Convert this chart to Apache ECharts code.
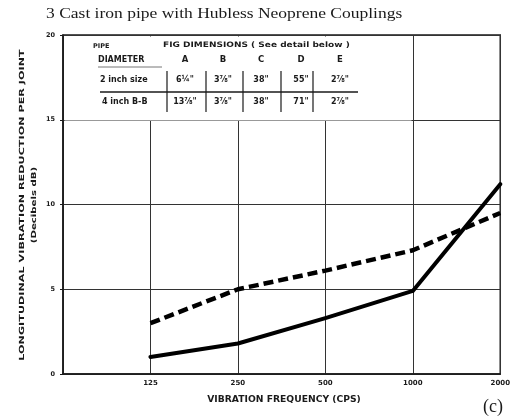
<!DOCTYPE html>
<html><head><meta charset="utf-8">
<script src="https://cdn.jsdelivr.net/npm/echarts@6/dist/echarts.min.js"></script>
<style>html,body{margin:0;padding:0;background:#fff}#c{width:513px;height:416px}</style>
</head><body><div id="c"></div>
<script>
// ---- data ----
const categories = ['', '125', '250', '500', '1000', '2000'];
const solidValues = [null, 1.0, 1.8, 3.3, 4.9, 11.2];   // 2 inch
const dashedValues = [null, 3.0, 5.0, 6.1, 7.3, 9.5];   // 4 inch
const yTicks = [0, 5, 10, 15, 20];
const colHeaders = ['A', 'B', 'C', 'D', 'E'];
const rowLabels = ['2 inch size', '4 inch B-B'];
const row1Values = ['6¼"', '3⅞"', '38"', '55"', '2⅞"'];
const row2Values = ['13⅞"', '3⅞"', '38"', '71"', '2⅞"'];
const titleText = '3 Cast iron pipe with Hubless Neoprene Couplings';
const xTitle = 'VIBRATION FREQUENCY (CPS)';
const yTitle1 = 'LONGITUDINAL VIBRATION REDUCTION PER JOINT';
const yTitle2 = '(Decibels dB)';

const chart = echarts.init(document.getElementById('c'), null, {renderer: 'canvas'});
const F = 'DejaVu Sans';
const ink = '#1a1a1a';

const colX = [185, 223, 261, 301, 340];
const g = [];
// title
g.push({type: 'text', x: 46, y: 14, scaleX: 1.25, style: {text: titleText, font: '14px Liberation Serif', fill: ink, textVerticalAlign: 'middle'}, z: 51});
// y-axis title (rotated)
g.push({type: 'text', x: 22, y: 205, rotation: Math.PI / 2, scaleX: 1.6, style: {text: yTitle1, font: 'bold 7px ' + F, fill: ink, textAlign: 'center', textVerticalAlign: 'middle'}, z: 51});
g.push({type: 'text', x: 34, y: 205, rotation: Math.PI / 2, scaleX: 1.45, style: {text: yTitle2, font: 'bold 7px ' + F, fill: ink, textAlign: 'center', textVerticalAlign: 'middle'}, z: 51});
// x-axis title
g.push({type: 'text', x: 284, y: 400, scaleX: 1.15, style: {text: xTitle, font: 'bold 8px ' + F, fill: ink, textAlign: 'center', textVerticalAlign: 'middle'}, z: 51});
// white patch for table
g.push({type: 'rect', shape: {x: 64.5, y: 36.5, width: 347, height: 84}, style: {fill: '#fff'}, z: 50, silent: true});
g.push({type: 'text', x: 93, y: 46, style: {text: 'PIPE', font: 'bold 6.5px ' + F, fill: ink, textVerticalAlign: 'middle'}, z: 51});
g.push({type: 'text', x: 163, y: 45, scaleX: 1.2, style: {text: 'FIG DIMENSIONS ( See detail below )', font: 'bold 7.5px ' + F, fill: ink, textVerticalAlign: 'middle'}, z: 51});
g.push({type: 'text', x: 98, y: 60, style: {text: 'DIAMETER', font: 'bold 8px ' + F, fill: ink, textVerticalAlign: 'middle'}, z: 51});
colHeaders.forEach((h, i) => g.push({type: 'text', x: colX[i], y: 60, style: {text: h, font: 'bold 8.5px ' + F, fill: ink, textAlign: 'center', textVerticalAlign: 'middle'}, z: 51}));
g.push({type: 'text', x: 100, y: 80, style: {text: rowLabels[0], font: 'bold 8px ' + F, fill: ink, textVerticalAlign: 'middle'}, z: 51});
g.push({type: 'text', x: 102, y: 102, style: {text: rowLabels[1], font: 'bold 8px ' + F, fill: ink, textVerticalAlign: 'middle'}, z: 51});
row1Values.forEach((v, i) => g.push({type: 'text', x: colX[i], y: 80, style: {text: v, font: 'bold 8px ' + F, fill: ink, textAlign: 'center', textVerticalAlign: 'middle'}, z: 51}));
row2Values.forEach((v, i) => g.push({type: 'text', x: colX[i], y: 102, style: {text: v, font: 'bold 8px ' + F, fill: ink, textAlign: 'center', textVerticalAlign: 'middle'}, z: 51}));
g.push({type: 'line', shape: {x1: 98, y1: 67, x2: 162, y2: 67}, style: {stroke: '#777', lineWidth: 1}, z: 51});
g.push({type: 'line', shape: {x1: 100, y1: 92, x2: 358, y2: 92}, style: {stroke: ink, lineWidth: 1.5}, z: 51});
[167, 206, 243, 281, 313].forEach(x => g.push({type: 'line', shape: {x1: x, y1: 71, x2: x, y2: 112}, style: {stroke: ink, lineWidth: 1.2}, z: 51}));
// (c)
g.push({type: 'text', right: 10, bottom: 0, style: {text: '(c)', font: '18px Liberation Serif', fill: ink}, z: 51});

chart.setOption({
  animation: false,
  backgroundColor: '#fff',
  grid: {left: 63, right: 11, top: 35, bottom: 42, show: true, borderColor: ink, borderWidth: 1.5},
  xAxis: {
    type: 'category', data: categories, boundaryGap: false,
    axisLine: {lineStyle: {color: ink, width: 1.5}},
    axisTick: {show: false},
    axisLabel: {fontFamily: F, fontWeight: 'bold', fontSize: 7, color: ink, margin: 6, showMinLabel: true},
    splitLine: {show: true, lineStyle: {color: '#333', width: 1}}
  },
  yAxis: {
    type: 'value', min: 0, max: 20, interval: 5,
    axisLine: {show: true, lineStyle: {color: ink, width: 1.5}},
    axisTick: {show: true, length: 3, lineStyle: {color: ink}},
    axisLabel: {fontFamily: F, fontWeight: 'bold', fontSize: 6.5, color: ink, margin: 8},
    splitLine: {show: true, lineStyle: {color: '#333', width: 1}}
  },
  series: [
    {type: 'line', data: solidValues, symbol: 'none', lineStyle: {color: '#000', width: 4, cap: 'round', join: 'round'}, z: 10},
    {type: 'line', data: dashedValues, symbol: 'none', lineStyle: {color: '#000', width: 4.5, type: [10, 5]}, z: 10}
  ],
  graphic: g
});
</script>
</body></html>
